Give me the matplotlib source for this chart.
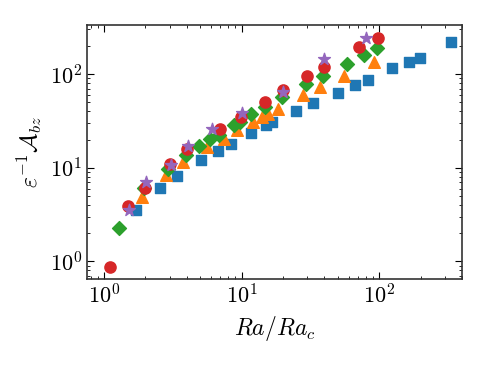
import matplotlib
matplotlib.use("Agg")
import matplotlib.pyplot as plt

plt.rcParams['mathtext.fontset'] = 'cm'
plt.rcParams['font.family'] = 'serif'
plt.rcParams['font.serif'] = ['cmr10', 'DejaVu Serif']
plt.rcParams['axes.formatter.use_mathtext'] = True

# series: (Ra/Ra_c, eps^-1 A_bz)
blue_x = [1.71, 2.55, 3.40, 5.08, 6.75, 8.39, 11.7, 15.1, 16.7, 24.9, 33.1,
          50.3, 66.9, 83.2, 124, 165, 199, 334]
blue_y = [3.56, 6.12, 8.22, 12.2, 15.2, 18.0, 23.6, 28.8, 31.0, 40.6, 49.4,
          63.1, 76.9, 86.9, 117, 135, 149, 221]

orange_x = [1.89, 2.82, 3.75, 5.61, 7.46, 9.27, 12.1, 14.1, 15.6, 18.4, 28.0,
            37.2, 55.6, 92.0]
orange_y = [4.90, 8.42, 11.6, 16.8, 20.4, 25.4, 31.0, 35.0, 37.7, 42.7, 60.1,
            73.2, 95.9, 135]

green_x = [1.29, 1.95, 2.92, 3.95, 4.91, 5.90, 6.86, 8.82, 9.75, 11.7, 14.8,
           19.7, 29.4, 39.1, 58.5, 77.8, 96.7]
green_y = [2.29, 6.12, 9.76, 13.8, 17.2, 20.4, 22.5, 28.8, 31.0, 37.7, 44.8,
           57.3, 78.8, 95.9, 129, 161, 191]

red_x = [1.11, 1.50, 1.99, 3.02, 4.01, 6.98, 9.92, 14.8, 20.0, 29.9, 39.8,
         71.6, 98.4]
red_y = [0.878, 3.93, 6.12, 11.0, 15.9, 26.1, 35.0, 50.6, 68.0, 95.9, 120,
         196, 244]

purple_x = [1.52, 2.02, 3.07, 4.08, 6.10, 10.1, 20.0, 39.8, 80.4]
purple_y = [3.56, 7.09, 10.8, 17.2, 26.1, 38.6, 64.7, 146, 244]

if __name__ == "__main__":
    fig = plt.figure(figsize=(4.88, 3.66), dpi=100)
    ax = fig.add_axes([0.178, 0.238, 0.769, 0.694])

    ax.scatter(blue_x, blue_y, marker='s', s=55, color='C0', zorder=3)
    ax.scatter(orange_x, orange_y, marker='^', s=70, color='C1', zorder=3)
    ax.scatter(green_x, green_y, marker='D', s=50, color='C2', zorder=3)
    ax.scatter(red_x, red_y, marker='o', s=65, color='C3', zorder=3)
    ax.scatter(purple_x, purple_y, marker='*', s=80, color='C4', zorder=3)

    ax.set_xscale('log')
    ax.set_yscale('log')
    ax.set_xlim(0.752, 401)
    ax.set_ylim(0.65, 336)

    ax.set_xlabel(r'$Ra/Ra_c$', fontsize=17)
    ax.set_ylabel(r'$\varepsilon^{-1}\mathcal{A}_{bz}$', fontsize=17)

    ax.tick_params(which='both', direction='in', top=True, right=True,
                   labelsize=16)
    ax.tick_params(which='major', length=5)
    ax.tick_params(which='minor', length=2.5)
    for sp in ax.spines.values():
        sp.set_linewidth(1.2)
        sp.set_color('#333333')

    plt.savefig('out.png', dpi=100)
